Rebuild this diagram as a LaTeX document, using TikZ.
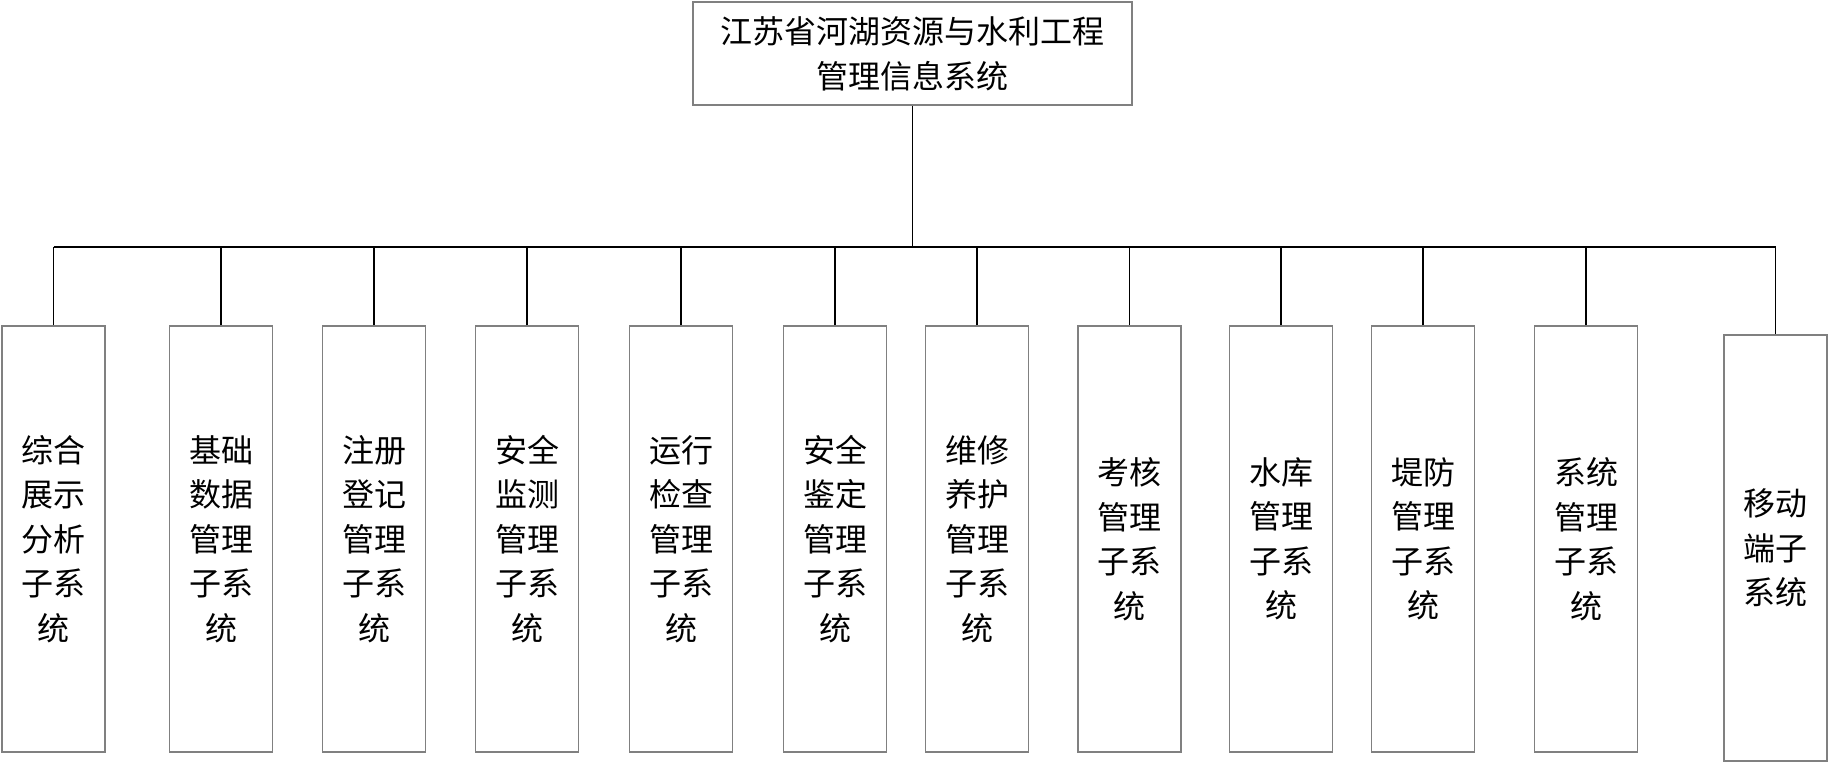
\documentclass[tikz,border=0pt]{standalone}
\usepackage{fontspec}
\usepackage{xcolor}
\usepackage{tikz}
\usetikzlibrary{positioning}
\newfontfamily\cjk{Noto Sans CJK SC}
\definecolor{boxgray}{RGB}{128,128,128}
\tikzset{
  rootbox/.style={rectangle, draw=boxgray, line width=1.6pt,
    minimum width=439pt, minimum height=103pt, inner sep=0pt,
    align=center, font=\cjk\fontsize{32pt}{45pt}\selectfont},
  subbox/.style={rectangle, draw=boxgray, line width=1.6pt,
    minimum width=103pt, minimum height=426pt, inner sep=0pt,
    align=center, font=\cjk\fontsize{32pt}{44.5pt}\selectfont},
  link/.style={line width=1.8pt, color=black}
}

\begin{document}
\begin{tikzpicture}[x=1pt, y=-1pt]
  \useasboundingbox (0,0) rectangle (1828,762);
  % top system
  \node[rootbox] (root) at (912.5,53.5) {江苏省河湖资源与水利工程\\管理信息系统};
  \coordinate (bus) at (912,247);

  % subsystems
  \node[subbox] (show)      at (53.5,539)  {综合\\展示\\分析\\子系\\统};
  \node[subbox] (basedata)  at (221,539)   {基础\\数据\\管理\\子系\\统};
  \node[subbox] (register)  at (374,539)   {注册\\登记\\管理\\子系\\统};
  \node[subbox] (monitor)   at (527,539)   {安全\\监测\\管理\\子系\\统};
  \node[subbox] (inspect)   at (681,539)   {运行\\检查\\管理\\子系\\统};
  \node[subbox] (appraise)  at (835,539)   {安全\\鉴定\\管理\\子系\\统};
  \node[subbox] (maintain)  at (977,539)   {维修\\养护\\管理\\子系\\统};
  \node[subbox] (assess)    at (1129.5,539) {考核\\管理\\子系\\统};
  \node[subbox] (reservoir) at (1281,539)  {水库\\管理\\子系\\统};
  \node[subbox] (dike)      at (1423,539)  {堤防\\管理\\子系\\统};
  \node[subbox] (sysmgr)    at (1586,539)  {系统\\管理\\子系\\统};
  \node[subbox] (mobile)    at (1775.5,548) {移动\\端子\\系统};

  % connectors
  \draw[link] (root.south) -- (root.south |- bus);
  \draw[link] (show.north |- bus) -- (mobile.north |- bus);
  \foreach \sub in {show,basedata,register,monitor,inspect,appraise,maintain,assess,reservoir,dike,sysmgr,mobile}
    \draw[link] (\sub.north) -- (\sub.north |- bus);
\end{tikzpicture}
\end{document}
